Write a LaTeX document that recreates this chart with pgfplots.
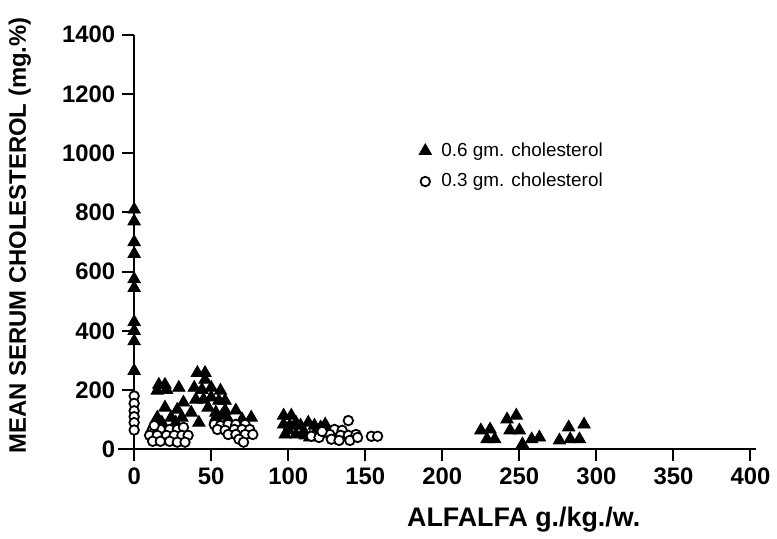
\documentclass[border=0pt]{standalone}
\usepackage{fontspec}
\setmainfont{Liberation Sans}
\usepackage{pgfplots}
\pgfplotsset{compat=1.18}

\begin{document}
\begin{tikzpicture}
\begin{axis}[
    scale only axis,
    width=310pt, height=208.5pt,
    xmin=0, xmax=400, ymin=0, ymax=1400,
    axis lines=left,
    axis line style={-, line width=1pt},
    x axis line style={shorten <=-8pt, shorten >=-3pt},
    y axis line style={shorten <=-5pt},
    xtick={0,50,...,400},
    ytick={0,200,...,1400},
    tick align=outside,
    major tick length=6pt,
    tick style={black, line width=1pt},
    /pgf/number format/assume math mode=true,
    /pgf/number format/set thousands separator={},
    tick label style={font=\fontsize{12}{14}\selectfont\bfseries},
    xlabel={\bfseries ALFALFA g./kg./w.},
    ylabel={\bfseries MEAN SERUM CHOLESTEROL (mg.\%)},
    xlabel style={font=\fontsize{13.5}{15}\selectfont, at={(axis description cs:0.632,-0.170)}, anchor=center},
    ylabel style={font=\fontsize{12}{14}\selectfont, at={(axis description cs:-0.1855,0.516)}, anchor=center},
    legend style={draw=none, fill=none, font=\fontsize{9.5}{11}\selectfont,
        at={(axis description cs:0.452,0.76)}, anchor=north west, row sep=3pt, column sep=3pt},
    legend cell align={left},
    clip=false,
]
% 0.6 gm cholesterol
\addplot[only marks, mark=triangle*, mark size=3.6pt, black] coordinates {
(0,810) (0,770) (0,700) (0,660) (0,575) (0,545) (0,430) (0,400) (0,365) (0,265)
(16,218) (20,218) (15,198) (21,201) (29,208)
(20,141) (28,134) (32,158) (37,124) (15,107) (24,107) (31,107) (42,90) (12,74) (18,90) (27,90)
(41,258) (46,258) (46,235) (39,208) (44,201) (50,208) (56,198) (40,168) (45,168) (50,175)
(55,164) (59,164) (48,141) (53,124) (59,131) (66,131) (53,107) (57,114) (61,101) (70,101) (76,107)
(97,114) (102,114) (97,84) (101,80) (105,90) (108,80) (113,90) (117,80) (121,74) (124,84)
(98,50) (105,50) (111,47) (114,40) (100,65) (110,60) (118,60) (125,55)
(225,64) (231,67) (229,34) (234,34) (242,101) (248,114) (244,64) (250,64) (252,17)
(258,34) (263,40) (276,30) (283,34) (289,34) (282,74) (292,84)
};
\addlegendentry{0.6 gm. cholesterol}
% 0.3 gm cholesterol
\addplot[only marks, mark=*, mark size=2.4pt, mark options={fill=white, draw=black, line width=0.9pt}] coordinates {
(0,180) (0,155) (0,130) (0,110) (0,90) (0,65)
(12,67) (17,67) (23,67) (28,67) (32,74) (13,80) (10,47) (15,47) (21,47) (26,47) (31,47) (35,47)
(12,27) (17,27) (23,27) (28,24) (33,24)
(52,84) (56,80) (61,84) (66,84) (72,84) (54,67) (59,64) (65,67) (70,67) (75,67)
(61,50) (66,50) (72,50) (77,50) (68,34) (71,24)
(139,97) (130,67) (135,64) (127,50) (134,47) (139,47) (144,50) (128,34) (133,30) (140,30)
(145,40) (154,44) (158,44) (115,44) (120,40) (122,60)
};
\addlegendentry{0.3 gm. cholesterol}
\path (rel axis cs:-0.2177,-0.199) rectangle (rel axis cs:1.0355,1.0839);
\end{axis}
\end{tikzpicture}
\end{document}
